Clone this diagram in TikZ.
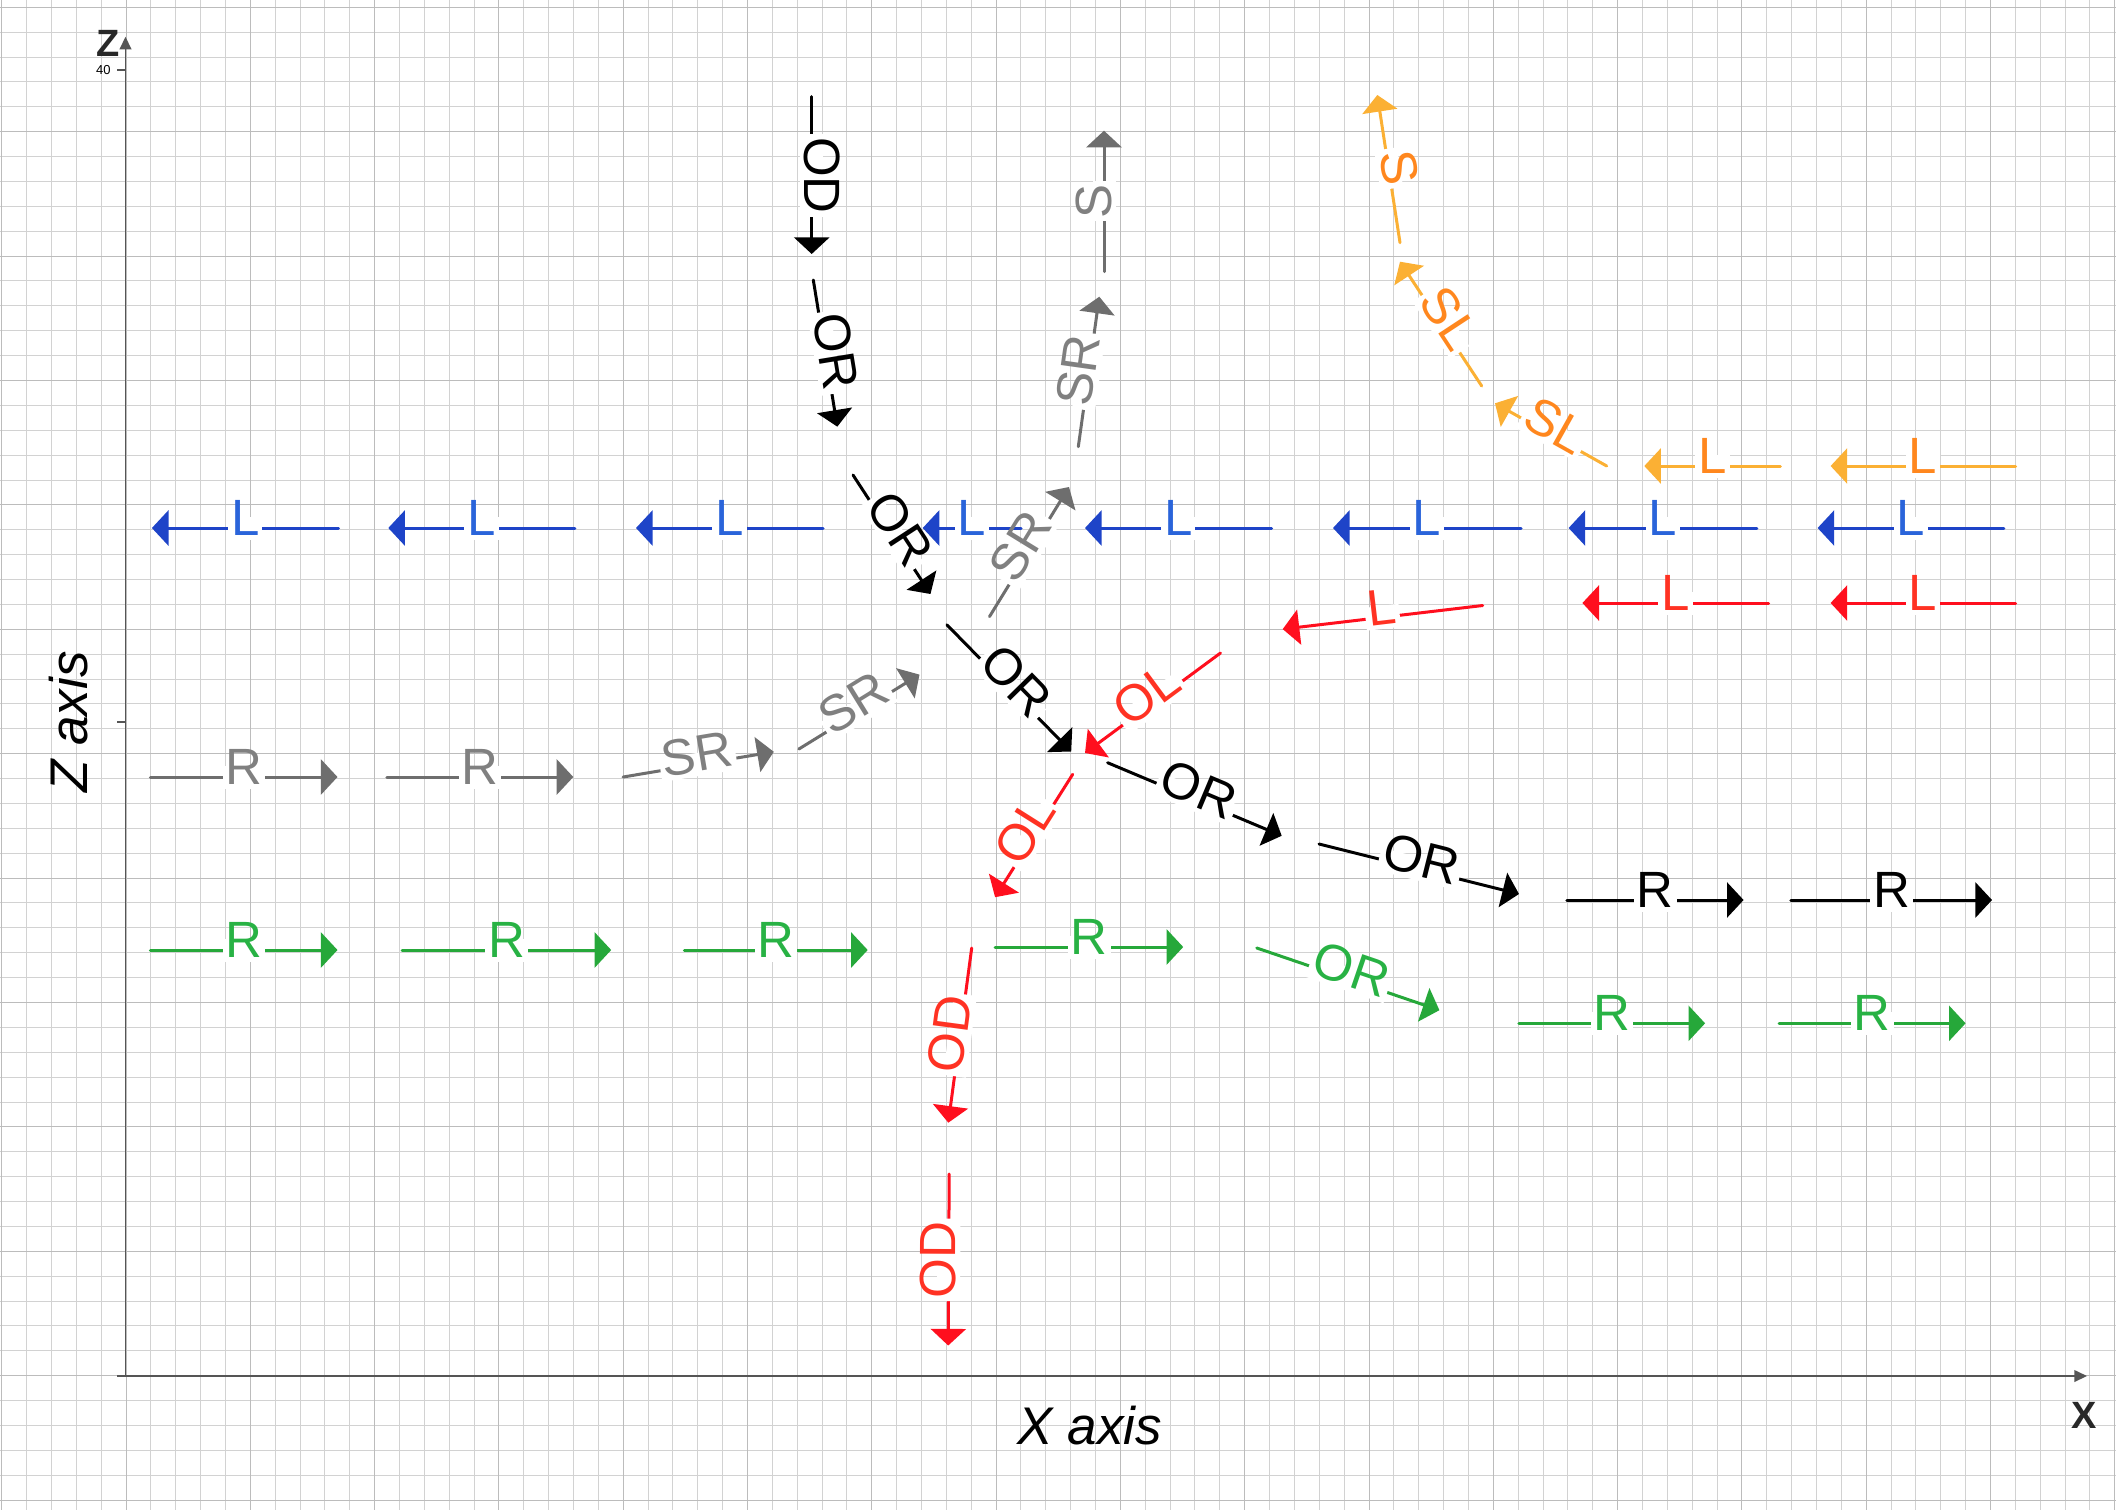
\documentclass[tikz,border=0pt]{standalone}
\usepackage{fontspec}
\setmainfont{Liberation Sans}
\usetikzlibrary{arrows.meta}
\definecolor{cblue}{RGB}{30,68,200}
\definecolor{tblue}{RGB}{42,100,218}
\definecolor{cred}{RGB}{255,15,30}
\definecolor{tred}{RGB}{255,50,35}
\definecolor{corange}{RGB}{251,176,52}
\definecolor{torange}{RGB}{255,135,30}
\definecolor{cgray}{RGB}{110,110,110}
\definecolor{tgray}{RGB}{128,128,128}
\definecolor{cgreen}{RGB}{38,168,58}
\definecolor{tgreen}{RGB}{40,178,68}
\definecolor{gminorc}{RGB}{210,210,210}
\definecolor{gmajorc}{RGB}{188,188,188}
\definecolor{axisc}{RGB}{85,85,85}
\definecolor{axistext}{RGB}{40,40,40}
\newcommand{\flowarrow}[6]{%
  \coordinate (#1s) at (#4);
  \coordinate (#1e) at (#5);
  \draw[flow, draw=#2] (#1s) -- node[lbl, text=#3] (#1) {#6} (#1e);
}
\tikzset{
  flow/.style={line width=1.5pt, line cap=round, -{Triangle[length=8.3pt,width=17.5pt]}},
  lbl/.style={sloped, pos=0.5, fill=white, inner xsep=1.5pt, inner ysep=0pt,
    text height=0.93em, text depth=0.22em, font=\fontsize{25.5pt}{30pt}\selectfont},
  gminor/.style={draw=gminorc, line width=0.7pt},
  gmajor/.style={draw=gmajorc, line width=0.7pt},
  axisline/.style={draw=axisc, line width=0.85pt, -{Triangle[length=6.3pt,width=5.8pt]}},
  tickline/.style={draw=axisc, line width=0.85pt},
}
\begin{document}
\begin{tikzpicture}[x=0.5pt,y=-0.5pt]
\useasboundingbox (0,0) rectangle (2116,1510);
\fill[white] (0,0) rectangle (2116,1510);
% grid (lines set on pixel centres)
\foreach \k in {0,...,85}{
  \pgfmathsetmacro\gx{floor(1.7+24.86*\k)+0.5}
  \draw[gminor] (\gx,0) -- (\gx,1510);}
\foreach \k in {0,...,60}{
  \pgfmathsetmacro\gy{floor(7.3+24.88*\k)+0.5}
  \draw[gminor] (0,\gy) -- (2116,\gy);}
\foreach \k in {0,5,...,85}{
  \pgfmathsetmacro\gx{floor(1.7+24.86*\k)+0.5}
  \draw[gmajor] (\gx,0) -- (\gx,1510);}
\foreach \k in {0,5,...,60}{
  \pgfmathsetmacro\gy{floor(7.3+24.88*\k)+0.5}
  \draw[gmajor] (0,\gy) -- (2116,\gy);}
% axes
\coordinate (O) at (125.5,1376);
\coordinate (xl) at (117,1376);
\coordinate (xe) at (2087,1376);
\coordinate (ze) at (125.5,36.7);
\draw[axisline] (xl) -- (xe);
\draw[axisline] (O) -- (ze);
\coordinate (t40a) at (117,70); \coordinate (t40b) at (125.5,70);
\coordinate (t20a) at (117,721.7); \coordinate (t20b) at (125.5,721.7);
\draw[tickline] (t40a) -- (t40b);
\draw[tickline] (t20a) -- (t20b);
\node[inner sep=0, font=\fontsize{6.5pt}{8pt}\selectfont] (n40) at (103.3,70) {40};
\node[inner sep=0, text=axistext, font=\bfseries\fontsize{19pt}{22pt}\selectfont] (zlabel) at (108.3,43) {Z};
\node[inner sep=0, text=axistext, font=\bfseries\fontsize{19pt}{22pt}\selectfont] (xlabel) at (2084.5,1415.5) {X};
\node[inner sep=0, rotate=90, font=\itshape\fontsize{26.5pt}{30pt}\selectfont] (zaxis) at (69,722) {Z axis};
\node[inner sep=0, font=\itshape\fontsize{26.5pt}{30pt}\selectfont] (xaxis) at (1090,1426) {X axis};
% black
\flowarrow{kOD}{black}{black}{811.7,96.7}{811.7,254}{OD}
\flowarrow{kORa}{black}{black}{813.3,280}{837.3,426.7}{OR}
\flowarrow{kORb}{black}{black}{853,475}{930.5,594}{OR}
\flowarrow{kORc}{black}{black}{946.9,624.8}{1071.2,751.5}{OR}
\flowarrow{kORd}{black}{black}{1107.6,762.7}{1281.7,835.8}{OR}
\flowarrow{kORe}{black}{black}{1319,844}{1519,894}{OR}
\flowarrow{kRa}{black}{black}{1566.8,900}{1743.6,900}{R}
\flowarrow{kRb}{black}{black}{1790.8,900}{1992,900}{R}
% blue
\flowarrow{bA}{cblue}{tblue}{338.5,528}{151.9,528}{L}
\flowarrow{bB}{cblue}{tblue}{574.8,528}{388.3,528}{L}
\flowarrow{bC}{cblue}{tblue}{823,528}{636,528}{L}
\flowarrow{bD}{cblue}{tblue}{1021,528}{922.7,528}{L}
\flowarrow{bE}{cblue}{tblue}{1271.6,528}{1085,528}{L}
\flowarrow{bF}{cblue}{tblue}{1521,528}{1333,528}{L}
\flowarrow{bG}{cblue}{tblue}{1756.9,528}{1568.6,528}{L}
\flowarrow{bH}{cblue}{tblue}{2003.9,528}{1817.6,528}{L}
% orange
\flowarrow{oA}{corange}{torange}{1780.4,466}{1644.3,466}{L}
\flowarrow{oB}{corange}{torange}{2015.7,466}{1830.6,466}{L}
\flowarrow{oSLb}{corange}{torange}{1606.7,466}{1495,403.3}{SL}
\flowarrow{oSLa}{corange}{torange}{1481.7,386}{1400,261.7}{SL}
\flowarrow{oS}{corange}{torange}{1400,242.7}{1377.3,95}{S}
% red
\flowarrow{rL}{cred}{tred}{1482.7,605.5}{1282.7,629.1}{L}
\flowarrow{rA}{cred}{tred}{1768.6,603}{1582.4,603}{L}
\flowarrow{rB}{cred}{tred}{2015.7,603}{1830.6,603}{L}
\flowarrow{rOLa}{cred}{tred}{1220.5,653}{1085,753}{OL}
\flowarrow{rOLb}{cred}{tred}{1072.7,774.3}{995.1,897.2}{OL}
\flowarrow{rODa}{cred}{tred}{971.7,948}{948.3,1122.7}{OD}
\flowarrow{rODb}{cred}{tred}{949.2,1174}{948.2,1345.5}{OD}
% green
\flowarrow{nA}{cgreen}{tgreen}{150.4,950}{337.5,950}{R}
\flowarrow{nB}{cgreen}{tgreen}{402.2,950}{611.2,950}{R}
\flowarrow{nC}{cgreen}{tgreen}{684.4,950}{867.7,950}{R}
\flowarrow{nD}{cgreen}{tgreen}{995.1,947}{1183.2,947}{R}
\flowarrow{nOR}{cgreen}{tgreen}{1256.8,948}{1439.4,1010.2}{OR}
\flowarrow{nE}{cgreen}{tgreen}{1518.9,1023.3}{1705.1,1023.3}{R}
\flowarrow{nF}{cgreen}{tgreen}{1779,1023.3}{1965.6,1023.3}{R}
% gray
\flowarrow{gA}{cgray}{tgray}{150.4,777}{337.5,777}{R}
\flowarrow{gB}{cgray}{tgray}{386.8,777}{573.3,777}{R}
\flowarrow{gSRa}{cgray}{tgray}{623.1,777}{773.8,751.8}{SR}
\flowarrow{gSRb}{cgray}{tgray}{798.9,749}{919.5,674.6}{SR}
\flowarrow{gSRc}{cgray}{tgray}{989.5,616.6}{1069,487}{SR}
\flowarrow{gSRd}{cgray}{tgray}{1078.3,446.7}{1099.3,296.7}{SR}
\flowarrow{gS}{cgray}{tgray}{1104,271.7}{1104,130.7}{S}
\end{tikzpicture}
\end{document}
